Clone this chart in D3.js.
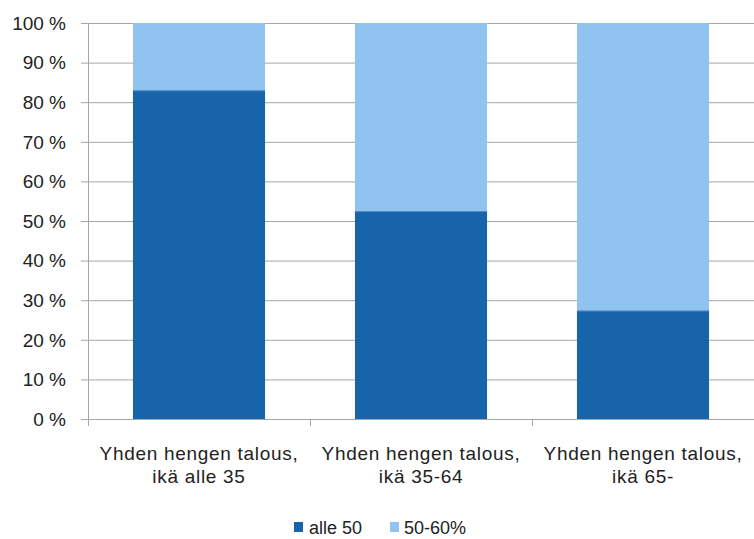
<!DOCTYPE html>
<html><head><meta charset="utf-8">
<script src="https://cdn.jsdelivr.net/npm/d3@7"></script>
<style>body{margin:0;background:#fff}svg{display:block}text{font-family:"Liberation Sans",Arial,sans-serif;fill:#222}</style>
</head><body><svg id="c" width="754" height="539"></svg>
<script>
const categories = [["Yhden hengen talous,","ikä alle 35"],["Yhden hengen talous,","ikä 35-64"],["Yhden hengen talous,","ikä 65-"]];
const seriesNames = ["alle 50","50-60%"];
const alle50 = [83, 52.5, 27.4];
const s5060 = [17, 47.5, 72.6];
const yTicks = [0,10,20,30,40,50,60,70,80,90,100];
const colors = ["#1764AB","#91C3F0"];

const svg = d3.select("#c");
const L=88, R=754, T=23, B=419;
const x = d3.scaleBand().domain(d3.range(categories.length)).range([L,R]).paddingInner(0.405).paddingOuter(0.2025);
const y = d3.scaleLinear().domain([0,100]).range([B,T]);

// gridlines
svg.append("g").selectAll("line").data(yTicks).join("line")
  .attr("x1",81).attr("x2",R).attr("y1",d=>y(d)+0.5).attr("y2",d=>y(d)+0.5)
  .attr("stroke","#A6A6A6").attr("stroke-width",1);
svg.append("g").selectAll("text").data(yTicks).join("text")
  .attr("x",66).attr("y",d=>y(d)).attr("dy","0.36em").attr("text-anchor","end")
  .attr("font-size",19).text(d=>d+" %");

// bars
const data = categories.map((c,i)=>({i, v:[alle50[i], s5060[i]]}));
data.forEach(d=>{
  let acc=0;
  d.v.forEach((v,k)=>{
    svg.append("rect").attr("x",x(d.i)).attr("width",x.bandwidth())
      .attr("y",y(acc+v)).attr("height",y(acc)-y(acc+v)).attr("fill",colors[k]);
    acc+=v;
  });
  svg.append("line").attr("x1",x(d.i)).attr("x2",x(d.i)+x.bandwidth())
    .attr("y1",y(d.v[0])+0.5).attr("y2",y(d.v[0])+0.5).attr("stroke","#4f8cc9").attr("stroke-width",1);
});

// axes lines
svg.append("line").attr("x1",L+0.5).attr("x2",L+0.5).attr("y1",T).attr("y2",B+1).attr("stroke","#A6A6A6");
svg.append("line").attr("x1",L).attr("x2",R).attr("y1",B+0.5).attr("y2",B+0.5).attr("stroke","#A6A6A6");
const step = x.step();
svg.append("g").selectAll("line").data(d3.range(categories.length+1)).join("line")
  .attr("x1",d=>L+d*step+0.5).attr("x2",d=>L+d*step+0.5).attr("y1",B).attr("y2",B+7).attr("stroke","#A6A6A6");

// category labels
const cl = svg.append("g").selectAll("text").data(categories).join("text")
  .attr("x",(d,i)=>x(i)+x.bandwidth()/2).attr("text-anchor","middle").attr("font-size",19)
  .attr("letter-spacing","0.7px");
cl.append("tspan").attr("y",460).attr("x",(d,i)=>x(i)+x.bandwidth()/2).text(d=>d[0]);
cl.append("tspan").attr("y",483).attr("x",(d,i)=>x(i)+x.bandwidth()/2).text(d=>d[1]);

// legend
const lg = [{x:294,tx:309},{x:390,tx:404}];
seriesNames.forEach((n,k)=>{
  svg.append("rect").attr("x",lg[k].x).attr("y",522).attr("width",9).attr("height",10).attr("fill",colors[k]);
  svg.append("text").attr("x",lg[k].tx).attr("y",534).attr("font-size",18).text(n);
});
</script></body></html>
